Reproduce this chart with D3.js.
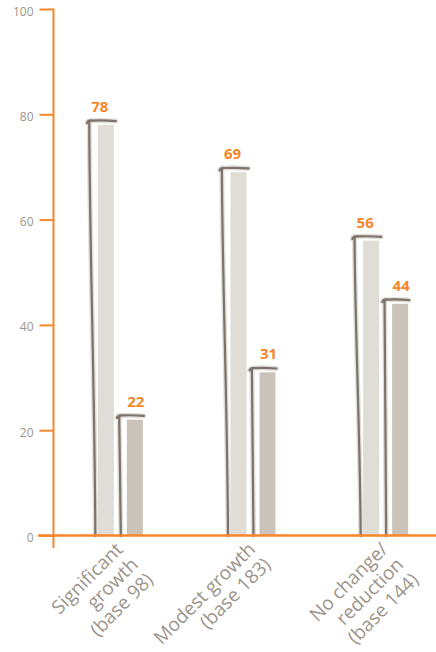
<!DOCTYPE html>
<html>
<head>
<meta charset="utf-8">
<script src="https://cdn.jsdelivr.net/npm/d3@7"></script>
<style>
  html, body { margin: 0; padding: 0; background: #ffffff; }
  svg { display: block; }
</style>
</head>
<body>
<svg id="chart" width="436" height="652"></svg>
<script>
// Share of respondents by company growth outlook
const categories = ["Significant growth (base 98)", "Modest growth (base 183)", "No change/ reduction (base 144)"];
const categoryLines = [
  ["Significant", "growth", "(base 98)"],
  ["Modest growth", "(base 183)"],
  ["No change/", "reduction", "(base 144)"]
];
const seriesNames = ["Yes", "No"];
const seriesYes = [78, 69, 56];
const seriesNo = [22, 31, 44];
const yTicks = [0, 20, 40, 60, 80, 100];

const W = 436, H = 652;
const ORANGE = "#f6862a";
const TEXT_GREY = "#9d948b";
const BAR_COLORS = ["#e0dcd6", "#cbc3ba"];
const SKETCH = "#7c736a";

const svg = d3.select("#chart");

const y = d3.scaleLinear().domain([0, 100]).range([535.5, 9]);
const x = d3.scalePoint().domain(categories).range([54, 452]).padding(0.5);
const inner = d3.scaleBand().domain(seriesNames).range([-22.5, 22.5]).paddingInner(0.448);

const series = [seriesYes, seriesNo];

// bars
const barG = svg.append("g");
series.forEach((vals, s) => {
  barG.selectAll(null)
    .data(vals)
    .enter().append("rect")
    .attr("x", (d, i) => x(categories[i]) + inner(seriesNames[s]))
    .attr("y", d => y(d))
    .attr("width", inner.bandwidth())
    .attr("height", d => y(0) - y(d))
    .attr("fill", BAR_COLORS[s]);
});

// hand-drawn outline on the left and top of each bar
const sketchStyle = [
  { bottom: -2.5, top: -9, end: 2 },
  { bottom: -6, top: -8, end: 1 }
];
function sketchPath(bx, bw, top, base, st) {
  const p = d3.path();
  const tx = bx + st.top;
  const ty = top - 4;
  p.moveTo(bx + st.bottom, base);
  p.bezierCurveTo(bx + st.bottom - 0.6, base - (base - ty) * 0.35,
                  tx + 0.8, ty + (base - ty) * 0.3,
                  tx + 0.4, ty + 2);
  p.quadraticCurveTo(tx, ty, tx + 3, ty - 0.2);
  p.quadraticCurveTo(tx + (bw + st.end - st.top) * 0.55, ty - 0.8, bx + bw + st.end, ty + 0.2);
  // small pen hook at the corner
  p.moveTo(tx - 1.8, ty + 2.2);
  p.quadraticCurveTo(tx - 1.2, ty - 0.3, tx + 2, ty - 0.4);
  return p.toString();
}
const sketchG = svg.append("g").attr("fill", "none").attr("stroke-linecap", "round");
series.forEach((vals, s) => {
  vals.forEach((v, i) => {
    const bx = x(categories[i]) + inner(seriesNames[s]);
    const d = sketchPath(bx, inner.bandwidth(), y(v), y(0), sketchStyle[s]);
    sketchG.append("path").attr("d", d)
      .attr("stroke", "#bdb5ad").attr("stroke-width", 5).attr("opacity", 0.45);
    sketchG.append("path").attr("d", d)
      .attr("stroke", SKETCH).attr("stroke-width", 2.2);
  });
});

// value labels
const labelShift = [-6, 1];
series.forEach((vals, s) => {
  svg.selectAll(null)
    .data(vals)
    .enter().append("text")
    .attr("x", (d, i) => x(categories[i]) + inner(seriesNames[s]) + inner.bandwidth() / 2 + labelShift[s])
    .attr("y", d => y(d) - 13)
    .attr("text-anchor", "middle")
    .attr("font-family", "'Open Sans', sans-serif")
    .attr("font-weight", 700)
    .attr("font-size", 15)
    .attr("fill", ORANGE)
    .text(d => d);
});

// y axis
const yAxis = d3.axisLeft(y).tickValues(yTicks).tickSize(14).tickPadding(6);
const axG = svg.append("g").attr("transform", "translate(53.5,0)").call(yAxis);
axG.select(".domain").remove();
axG.selectAll(".tick line").attr("stroke", ORANGE).attr("stroke-width", 2);
axG.selectAll(".tick text")
  .attr("fill", TEXT_GREY)
  .attr("font-family", "'Open Sans', sans-serif")
  .attr("font-size", 12)
  .attr("dy", "0.5em");
svg.append("line")
  .attr("x1", 53.5).attr("x2", 53.5)
  .attr("y1", y(100) - 0.5).attr("y2", y(0) + 12.5)
  .attr("stroke", ORANGE).attr("stroke-width", 2);
// baseline
svg.append("line")
  .attr("x1", 38).attr("x2", W)
  .attr("y1", y(0)).attr("y2", y(0))
  .attr("stroke", ORANGE).attr("stroke-width", 2.6);

// rotated category labels, right-aligned under each group
const LINE_H = 21.5;
const labG = svg.append("g");
categoryLines.forEach((lines, i) => {
  const ax = x(categories[i]) - 11, ay = 536;
  const t = labG.append("text")
    .attr("transform", `translate(${ax},${ay}) rotate(-45)`)
    .attr("font-family", "'Open Sans', sans-serif")
    .attr("font-size", 19)
    .attr("fill", TEXT_GREY)
    .attr("text-anchor", "end");
  lines.forEach((ln, k) => {
    t.append("tspan")
      .attr("x", 0)
      .attr("y", 14 + k * LINE_H)
      .attr("dy", "0.35em")
      .text(ln);
  });
});
</script>
</body>
</html>
